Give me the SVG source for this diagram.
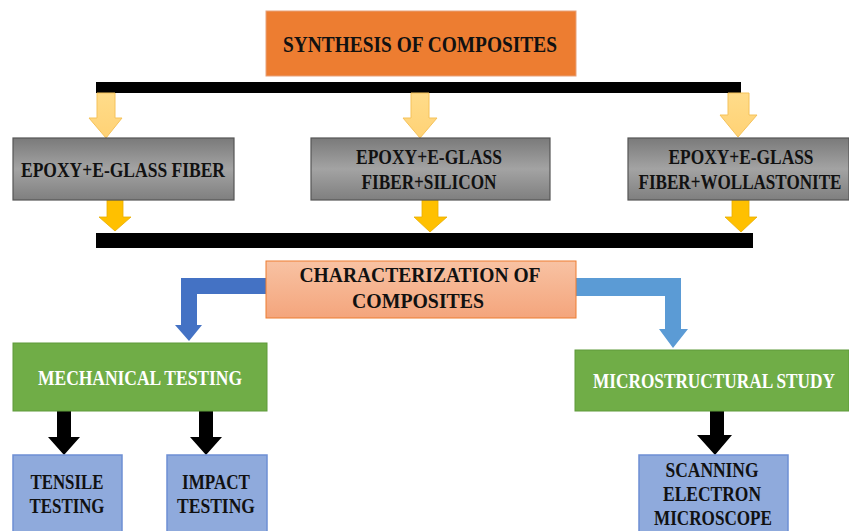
<svg xmlns="http://www.w3.org/2000/svg" width="849" height="531" viewBox="0 0 849 531">
<defs>
<linearGradient id="gray" x1="0" y1="0" x2="0" y2="1">
<stop offset="0" stop-color="#7a7a7a"/>
<stop offset="0.5" stop-color="#a3a3a3"/>
<stop offset="1" stop-color="#7f7f7f"/>
</linearGradient>
<linearGradient id="salmon" x1="0" y1="0" x2="0" y2="1">
<stop offset="0" stop-color="#f8c2a3"/>
<stop offset="1" stop-color="#f4a57c"/>
</linearGradient>
<linearGradient id="lyel" x1="0" y1="0" x2="0" y2="1">
<stop offset="0" stop-color="#ffdc8a"/>
<stop offset="1" stop-color="#ffd275"/>
</linearGradient>
</defs>
<style>
text{font-family:"Liberation Serif","Times New Roman",serif;font-weight:bold;text-anchor:middle;dominant-baseline:central;fill:#111}
.gray{fill:url(#gray);stroke:#555;stroke-width:1.2}
.blue{fill:#8faadc;stroke:#6d8fd4;stroke-width:1.5}
.green{fill:#70ad47;stroke:#5e9a3a;stroke-width:1}
.bar{fill:#000}
.ay1{fill:url(#lyel);stroke:#f5c25a;stroke-width:1}
.ay2{fill:#ffc000;stroke:#e8ad00;stroke-width:0.8}
.ak{fill:#000}
.w{fill:#fff}
</style>
<rect width="849" height="531" fill="#fff"/>

<g id="connectors">
<rect class="bar" x="96" y="82" width="645" height="11"/>
<rect class="bar" x="96" y="233" width="657" height="15"/>
<path class="ay1" d="M97,93 H115 V118 H122 L106,138 L89,118 H97 Z"/>
<path class="ay1" d="M411,93 H429 V118 H437 L420,138 L403,118 H411 Z"/>
<path class="ay1" d="M728,93 H749 V115 H757 L738,137 L720,115 H728 Z"/>
<path class="ay2" d="M107,200 H123 V217 H131 L115,231 L99,217 H107 Z"/>
<path class="ay2" d="M422,200 H438 V217 H447 L430,232 L414,217 H422 Z"/>
<path class="ay2" d="M732,200 H749 V217 H757 L741,232 L725,217 H732 Z"/>
<path fill="#4472c4" d="M266,278 V294 H197 V325 H202 L189,341 L175,325 H181 V278 Z"/>
<path fill="#5b9bd5" d="M576,278 H681 V329 H688 L673,348 L659,329 H665 V296 H576 Z"/>
<path class="ak" d="M57,411 H71 V437 H80 L64,455 L48,437 H57 Z"/>
<path class="ak" d="M199,411 H213 V437 H222 L206,455 L190,437 H199 Z"/>
<path class="ak" d="M710,411 H724 V435 H732 L715,455 L697,435 H710 Z"/>
</g>

<g id="synthesis">
<rect x="266" y="11" width="310" height="65" fill="#ed7d31" stroke="#e7a27a" stroke-width="1"/>
<text x="420" y="44" font-size="23" textLength="274" lengthAdjust="spacingAndGlyphs">SYNTHESIS OF COMPOSITES</text>
</g>

<g id="box1">
<rect class="gray" x="13" y="138" width="221" height="62"/>
<text x="123" y="170" font-size="21" textLength="204" lengthAdjust="spacingAndGlyphs">EPOXY+E-GLASS FIBER</text>
</g>
<g id="box2">
<rect class="gray" x="311" y="138" width="239" height="62"/>
<text x="429" y="157" font-size="21" textLength="146" lengthAdjust="spacingAndGlyphs">EPOXY+E-GLASS</text>
<text x="429" y="182" font-size="21" textLength="135" lengthAdjust="spacingAndGlyphs">FIBER+SILICON</text>
</g>
<g id="box3">
<rect class="gray" x="628" y="138" width="221" height="62"/>
<text x="741" y="157" font-size="21" textLength="145" lengthAdjust="spacingAndGlyphs">EPOXY+E-GLASS</text>
<text x="740" y="182" font-size="17" textLength="203" lengthAdjust="spacingAndGlyphs" transform="translate(0,-43.7) scale(1,1.24)" transform-origin="0 0">FIBER+WOLLASTONITE</text>
</g>

<g id="characterization">
<rect x="266" y="261" width="310" height="57" fill="url(#salmon)" stroke="#ed7d31" stroke-width="1"/>
<text x="420" y="275" font-size="21" textLength="241" lengthAdjust="spacingAndGlyphs">CHARACTERIZATION OF</text>
<text x="418" y="301" font-size="21" textLength="132" lengthAdjust="spacingAndGlyphs">COMPOSITES</text>
</g>

<g id="mechanical">
<rect class="green" x="13" y="343" width="254" height="68"/>
<text class="w" x="140" y="378" font-size="20.5" textLength="204" lengthAdjust="spacingAndGlyphs">MECHANICAL TESTING</text>
</g>
<g id="microstructural">
<rect class="green" x="575" y="350" width="274" height="61"/>
<text class="w" x="714" y="381" font-size="17" textLength="242" lengthAdjust="spacingAndGlyphs" transform="translate(0,-91.4) scale(1,1.24)">MICROSTRUCTURAL STUDY</text>
</g>

<g id="tensile">
<rect class="blue" x="13" y="455" width="109" height="90"/>
<text x="67" y="482" font-size="20" textLength="73" lengthAdjust="spacingAndGlyphs">TENSILE</text>
<text x="67" y="506" font-size="20" textLength="75" lengthAdjust="spacingAndGlyphs">TESTING</text>
</g>
<g id="impact">
<rect class="blue" x="167" y="455" width="100" height="90"/>
<text x="216" y="482" font-size="20" textLength="68" lengthAdjust="spacingAndGlyphs">IMPACT</text>
<text x="216" y="506" font-size="20" textLength="78" lengthAdjust="spacingAndGlyphs">TESTING</text>
</g>
<g id="sem">
<rect class="blue" x="639" y="455" width="149" height="90"/>
<text x="712" y="470" font-size="20" textLength="93" lengthAdjust="spacingAndGlyphs">SCANNING</text>
<text x="712" y="494" font-size="20" textLength="98" lengthAdjust="spacingAndGlyphs">ELECTRON</text>
<text x="713" y="518" font-size="20" textLength="118" lengthAdjust="spacingAndGlyphs">MICROSCOPE</text>
</g>
</svg>
